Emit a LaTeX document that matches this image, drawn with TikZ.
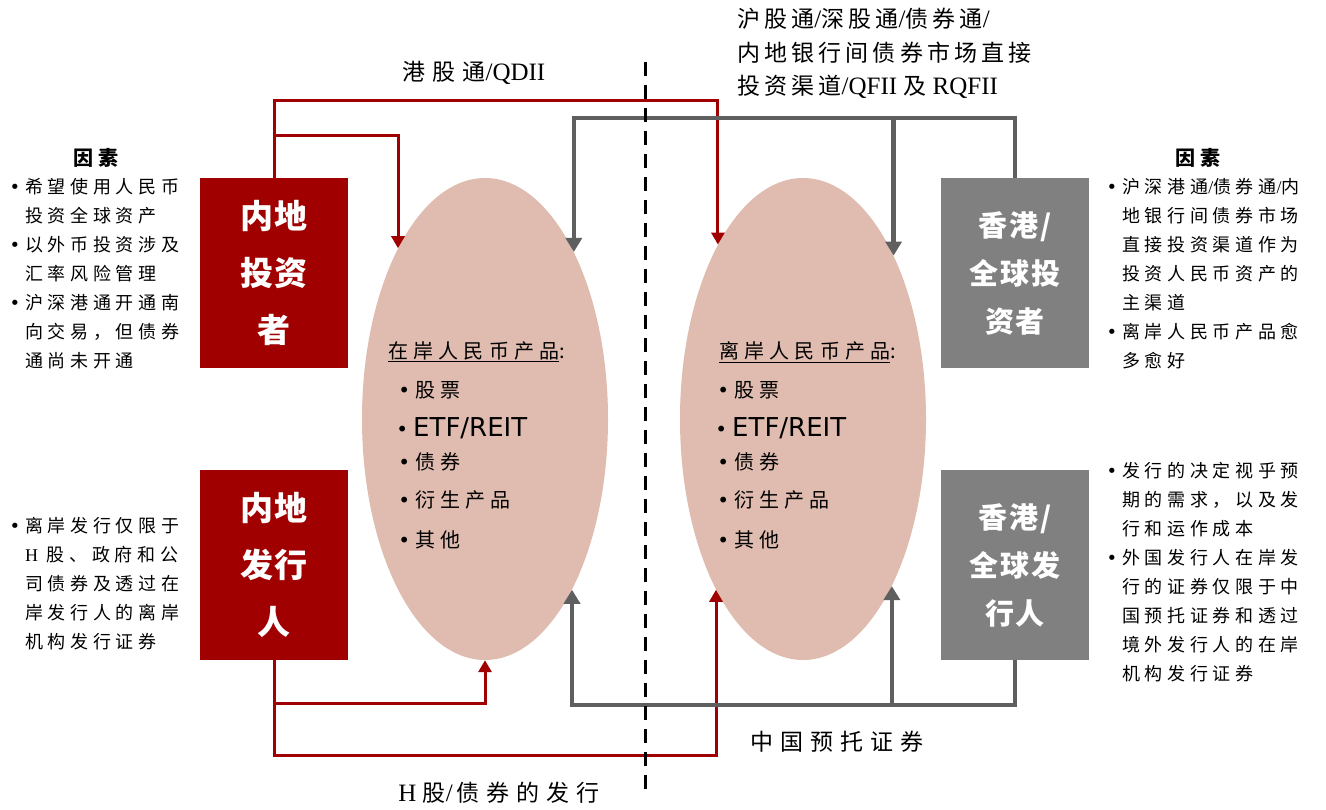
\documentclass[tikz,border=0pt]{standalone}
\usepackage{fontspec}
\setmainfont{Liberation Serif}
\newfontfamily\cjk[LetterSpace=26]{Noto Sans CJK SC}
\newfontfamily\cjkl[LetterSpace=18]{Noto Sans CJK SC}
\newfontfamily\cjkw[LetterSpace=30]{Noto Sans CJK SC}
\newfontfamily\cjkbox[LetterSpace=6]{Noto Sans CJK SC}
\newfontfamily\vsans{DejaVu Sans}
\usetikzlibrary{shapes.geometric,arrows.meta}
\definecolor{dred}{RGB}{160,0,0}
\definecolor{gbox}{RGB}{128,128,128}
\definecolor{garrow}{RGB}{95,95,95}
\definecolor{ellfill}{RGB}{223,188,175}
\newcommand\cjkt[1]{{\cjkl\fontsize{23}{33.5}\selectfont #1}}
\newcommand\cjkwt[1]{{\cjkw\fontsize{23}{33.5}\selectfont #1}}
\newcommand\bul{\llap{{\vsans •}\hspace{5pt}}}
\tikzset{
  redbox/.style={fill=dred, minimum width=148pt, minimum height=190pt, inner sep=0pt, text=white, align=center, font=\cjkbox\bfseries\fontsize{33}{57}\selectfont},
  greybox/.style={fill=gbox, minimum width=148pt, minimum height=190pt, inner sep=0pt, text=white, align=center, font=\cjkbox\bfseries\fontsize{29}{48}\selectfont},
  ell/.style={ellipse, fill=ellfill, minimum width=246pt, minimum height=482pt, inner sep=0pt},
  redarr/.style={draw=dred, line width=3pt, -{Triangle[width=13pt,length=12pt]}},
  greyarr/.style={draw=garrow, line width=4.5pt, -{Triangle[width=16pt,length=14pt]}},
  side/.style={inner sep=0pt, anchor=west, align=left, font=\cjk\fontsize{18}{29}\selectfont},
  headtxt/.style={inner sep=0pt, font=\cjk\bfseries\fontsize{20}{22}\selectfont},
  item/.style={inner sep=0pt, anchor=west, font=\cjk\fontsize{20}{24}\selectfont},
  lbl/.style={inner sep=0pt, font=\fontsize{25}{33.5}\selectfont},
}
\begin{document}
\begin{tikzpicture}[x=1pt,y=-1pt]
\useasboundingbox[fill=white] (0,0) rectangle (1326,809);

% ellipses
\node[ell] (eL) at (485,419) {};
\node[ell] (eR) at (803,419) {};

% boxes
\node[redbox] (inv) at (274,273) {内地\\投资\\者};
\node[redbox] (iss) at (274,565) {内地\\发行\\人};
\node[greybox] (hkinv) at (1015,273) {香港/\\全球投\\资者};
\node[greybox] (hkiss) at (1015,565) {香港/\\全球发\\行人};

% helper coordinates for line levels
\coordinate (rt1) at (0,100);
\coordinate (rt2) at (0,135);
\coordinate (gt) at (0,118);
\coordinate (rb1) at (0,703);
\coordinate (rb2) at (0,755);
\coordinate (gb) at (0,705);

% red arrows (mainland)
\draw[redarr] (inv.north) -- (inv.north |- rt1) -| (eR.116.5);
\draw[redarr] (inv.north |- rt2) -| (eL.117.6);
\draw[redarr] (iss.south) -- (iss.south |- rb2) -| (eR.243.5);
\draw[redarr] (iss.south |- rb1) -| (eL.south);

% grey arrows (HK / global)
\draw[greyarr] (hkinv.north) -- (hkinv.north |- gt) -| (eL.62.4);
\draw[greyarr] (eR.61.3 |- gt) -- (eR.61.3);
\draw[greyarr] (hkiss.south) -- (hkiss.south |- gb) -| (eL.297.6);
\draw[greyarr] (eR.298.7 |- gb) -- (eR.298.7);

% ellipse contents
\node[item] (hL) at (388,352) {\underline{在岸人民币产品}:};
\node[item] (iL1) at (415,390) {\bul 股票};
\node[item, font=\vsans\fontsize{26}{28}\selectfont] (iL2) at (413,428) {\llap{\fontsize{20}{24}\selectfont•\hspace{5pt}}ETF/REIT};
\node[item] (iL3) at (415,462) {\bul 债券};
\node[item] (iL4) at (415,500) {\bul 衍生产品};
\node[item] (iL5) at (415,540) {\bul 其他};

\node[item] (hR) at (719,352) {\underline{离岸人民币产品}:};
\node[item] (iR1) at (734,390) {\bul 股票};
\node[item, font=\vsans\fontsize{26}{28}\selectfont] (iR2) at (732,428) {\llap{\fontsize{20}{24}\selectfont•\hspace{5pt}}ETF/REIT};
\node[item] (iR3) at (734,462) {\bul 债券};
\node[item] (iR4) at (734,500) {\bul 衍生产品};
\node[item] (iR5) at (734,540) {\bul 其他};

% side texts
\node[headtxt] (fL) at (96,158) {因素};
\node[side] (tL1) at (25,273.5) {\bul 希望使用人民币\\投资全球资产\\\bul 以外币投资涉及\\汇率风险管理\\\bul 沪深港通开通南\\向交易，但债券\\通尚未开通};
\node[side] (tL2) at (25,583.5) {\bul 离岸发行仅限于\\{\rmfamily H} 股、政府和公\\司债券及透过在\\岸发行人的离岸\\机构发行证券};
\node[headtxt] (fR) at (1198,158) {因素};
\node[side] (tR1) at (1122,273.5) {\bul 沪深港通{\rmfamily/}债券通{\rmfamily/}内\\地银行间债券市场\\直接投资渠道作为\\投资人民币资产的\\主渠道\\\bul 离岸人民币产品愈\\多愈好};
\node[side] (tR2) at (1122,572) {\bul 发行的决定视乎预\\期的需求，以及发\\行和运作成本\\\bul 外国发行人在岸发\\行的证券仅限于中\\国预托证券和透过\\境外发行人的在岸\\机构发行证券};

% channel labels
\node[lbl] (lq) at (474,73) {\cjkwt{港股通}/QDII};
\node[lbl, anchor=west, align=left] (ltop) at (737,53.5) {\cjkt{沪股通}/\cjkt{深股通}/\cjkt{债券通}/\\\cjkt{内地银行间债券市场直接}\\\cjkt{投资渠道}/QFII \cjkt{及} RQFII};
\node[lbl] (lc) at (837,742) {\cjkwt{中国预托证券}};
\node[lbl] (lh) at (499,793) {H \cjkwt{股}/\,\cjkwt{债券的发行}};

% dashed border line
\coordinate (dtop) at (645,62);
\coordinate (dbot) at (645,792);
\draw[black, line width=3pt, dash pattern=on 14pt off 9pt] (dtop) -- (dbot);
\end{tikzpicture}
\end{document}
